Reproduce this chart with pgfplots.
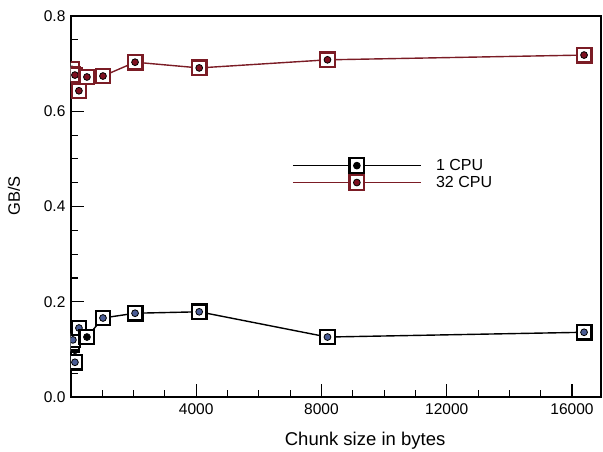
\documentclass[border=0pt]{standalone}
\usepackage{pgfplots}
\pgfplotsset{compat=1.18}
\usepackage{fontspec}
\setmainfont{Liberation Sans}
\definecolor{cpured}{HTML}{7B1C25}
\definecolor{dotred}{HTML}{7E1020}
\definecolor{dotblue}{HTML}{4A5C94}
\newcommand{\sqdotmark}[2]{%
  \pgfsetlinewidth{2.3pt}%
  \pgfsetdash{}{0pt}%
  \pgfsetstrokecolor{#1}%
  \pgfsetfillcolor{white}%
  \pgfpathrectangle{\pgfpoint{-7.3pt}{-7.3pt}}{\pgfpoint{14.6pt}{14.6pt}}%
  \pgfusepath{fill,stroke}%
  \pgfsetlinewidth{0.8pt}%
  \pgfsetstrokecolor{black}%
  \pgfsetfillcolor{#2}%
  \pgfpathcircle{\pgfpointorigin}{3.4pt}%
  \pgfusepath{fill,stroke}%
}
\pgfdeclareplotmark{sqdotblue}{\sqdotmark{black}{dotblue}}
\pgfdeclareplotmark{sqdotblack}{\sqdotmark{black}{black}}
\pgfdeclareplotmark{sqdotred}{\sqdotmark{cpured}{dotred}}

\pgfplotstableread{
x y
8 0.110
16 0.118
32 0.113
64 0.120
128 0.073
256 0.145
512 0.126
1024 0.166
2048 0.176
4096 0.179
8192 0.126
16384 0.136
}\onecpu
\pgfplotstableread{
x y
8 0.685
16 0.680
32 0.688
64 0.678
128 0.676
256 0.643
512 0.672
1024 0.674
2048 0.703
4096 0.691
8192 0.708
16384 0.718
}\thirtytwocpu

\begin{document}
\begin{tikzpicture}
\begin{axis}[
  scale only axis, width=530pt, height=381pt,
  xmin=0, xmax=16925, ymin=0, ymax=0.8,
  scaled x ticks=false, scaled y ticks=false,
  xtick={4000,8000,12000,16000},
  xticklabels={4000,8000,12000,16000},
  minor xtick={1000,2000,3000,5000,6000,7000,9000,10000,11000,13000,14000,15000},
  ytick={0,0.2,0.4,0.6,0.8},
  yticklabels={0.0,0.2,0.4,0.6,0.8},
  minor ytick={0.05,0.1,0.15,0.25,0.3,0.35,0.45,0.5,0.55,0.65,0.7,0.75},
  tick pos=left, tick align=inside,
  major tick length=13pt, minor tick length=7pt,
  every tick/.style={black, line width=1.1pt},
  axis line style={line width=1.6pt},
  clip marker paths=true,
  tick label style={font=\fontsize{15.5}{18}\selectfont},
  xticklabel style={yshift=-3pt},
  yticklabel style={xshift=-2pt},
  xlabel={Chunk size in bytes},
  ylabel={GB/S},
  xlabel style={at={(axis description cs:0.555,-0.128)}, anchor=base, font=\fontsize{18.5}{22}\selectfont},
  ylabel style={at={(axis description cs:-0.1075,0.528)}, anchor=center, font=\fontsize{16.5}{20}\selectfont},
  legend style={at={(axis description cs:0.417,0.63)}, anchor=north west, draw=none, fill=none,
    inner sep=0pt, font=\fontsize{16}{19}\selectfont, row sep=0pt, nodes={inner sep=1.5pt},
    /tikz/every odd column/.append style={column sep=13pt}},
  legend cell align=left,
  legend image code/.code={\draw[mark repeat=2,mark phase=2] plot coordinates {(0pt,0pt) (64pt,0pt) (128pt,0pt)};},
]
\addplot[black, line width=1.4pt, mark=sqdotblue, forget plot] table[x=x,y=y] {\onecpu};
\addplot[black, line width=1.4pt, mark=sqdotblack] coordinates {(512,0.126)};
\addlegendentry{1 CPU}
\addplot[cpured, line width=1.4pt, mark=sqdotred] table[x=x,y=y] {\thirtytwocpu};
\addlegendentry{32 CPU}
\end{axis}
\pgfresetboundingbox
\path (current axis.south west) ++(-70.9pt,-54pt) coordinate (bl);
\path (current axis.north east) ++(2pt,16pt) coordinate (tr);
\useasboundingbox (bl) rectangle (tr);
\end{tikzpicture}
\end{document}
